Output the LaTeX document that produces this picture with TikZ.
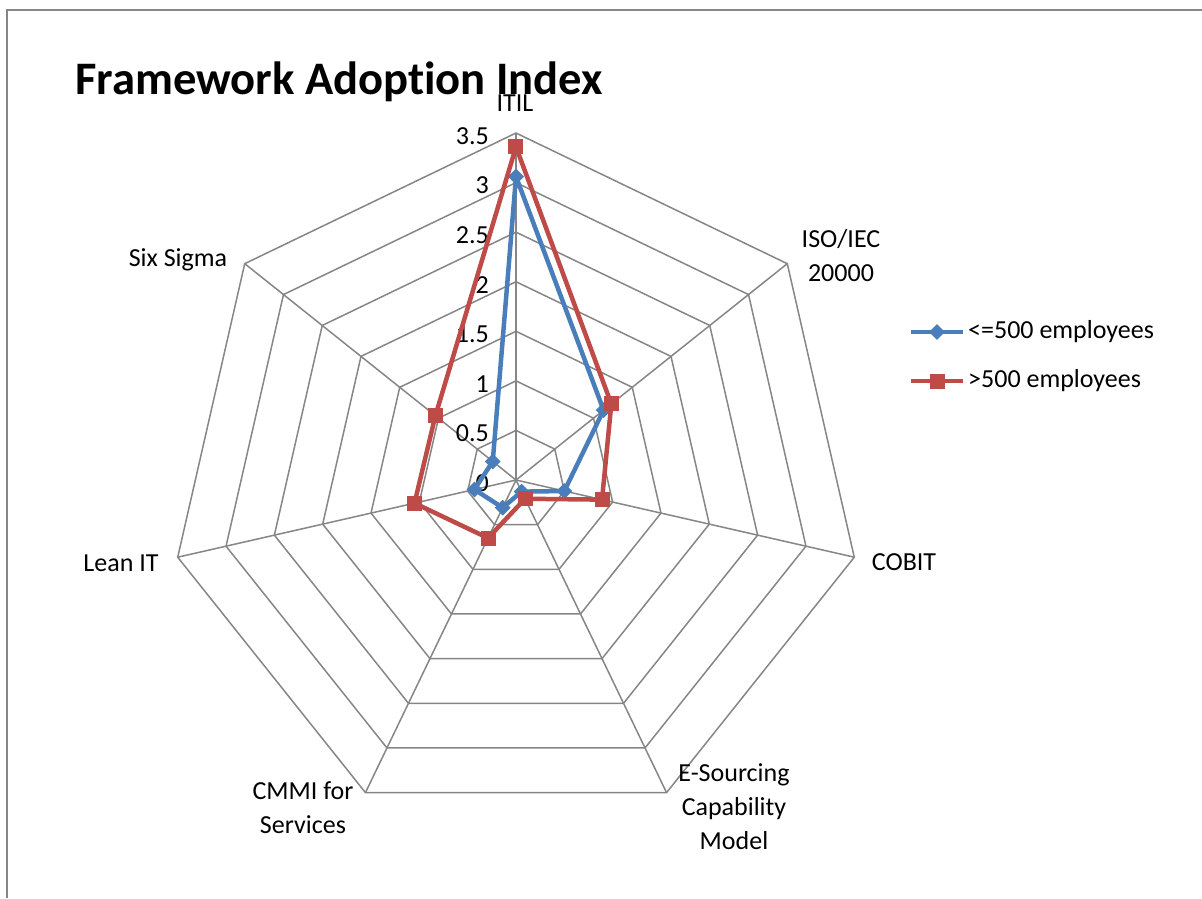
\documentclass[tikz,border=0pt]{standalone}
\usepackage{fontspec}
\setmainfont{Carlito}[Ligatures=NoCommon]
\usetikzlibrary{shapes.geometric,positioning}

\definecolor{gridgray}{HTML}{868686}
\definecolor{smallblue}{HTML}{4A7EBB}
\definecolor{largered}{HTML}{BE4B48}

\tikzset{
  gridline/.style={gridgray, line width=1.5pt},
  axislabel/.style={font=\fontsize{26}{34}\selectfont, align=center, inner sep=0pt},
  ticklabel/.style={font=\fontsize{26}{34}\selectfont, anchor=east, inner sep=0pt},
  smallco/.style={smallblue, line width=4.5pt, line join=round},
  largeco/.style={largered, line width=4.5pt, line join=round},
  diamondmark/.style={diamond, fill=smallblue, inner sep=0pt, minimum size=16pt},
  squaremark/.style={rectangle, fill=largered, inner sep=0pt, minimum size=15pt},
}

\begin{document}
\begin{tikzpicture}[x=1pt,y=1pt]
\useasboundingbox (-516,-418) rectangle (686,480);
\draw[gridgray, line width=2pt] (-509,-418) -- (-509,470) -- (686,470);

\node[font=\fontsize{46.6}{56}\selectfont\bfseries, anchor=base west, inner sep=0pt] (title) at (-441,386) {Framework Adoption Index};

% rings and spokes
\coordinate (O) at (0,0);
\foreach \k in {1,...,7}{
  \pgfmathsetmacro\rr{\k*49.57}
  \draw[gridline] (90:\rr) \foreach \i in {1,...,6}{ -- (90-\i*360/7:\rr)} -- cycle;
}
\foreach \i in {0,...,6}{
  \coordinate (ax\i) at (90-\i*360/7:347);
  \draw[gridline] (O) -- (ax\i);
}

\foreach \t [count=\k from 0] in {0,0.5,1,1.5,2,2.5,3,3.5}
  \node[ticklabel] (tick\k) at (-27,\k*49.57-3) {\t};

% axis labels
\node[axislabel] (itil) at (-1,377) {ITIL};
\node[axislabel] (iso) at (325,224) {ISO/IEC\\20000};
\node[axislabel] (cobit) at (388,-82) {COBIT};
\node[axislabel] (esource) at (218,-327) {E-Sourcing\\Capability\\Model};
\node[axislabel] (cmmi) at (-213,-328) {CMMI for\\Services};
\node[axislabel] (lean) at (-395,-83) {Lean IT};
\node[axislabel] (sixsigma) at (-338,220) {Six Sigma};

% series
\foreach \v [count=\i from 0] in {3.06,1.13,0.50,0.13,0.31,0.43,0.30}
  \coordinate (s\i) at (90-\i*360/7:\v*99.14);
\foreach \v [count=\i from 0] in {3.36,1.23,0.89,0.21,0.65,1.05,1.04}
  \coordinate (l\i) at (90-\i*360/7:\v*99.14);

\draw[smallco] (s0) -- (s1) -- (s2) -- (s3) -- (s4) -- (s5) -- (s6) -- cycle;
\foreach \i in {0,...,6}
  \node[diamondmark] (sm\i) at (s\i) {};
\draw[largeco] (l0) -- (l1) -- (l2) -- (l3) -- (l4) -- (l5) -- (l6) -- cycle;
\foreach \i in {0,...,6}
  \node[squaremark] (lm\i) at (l\i) {};

% legend
\draw[smallco] (395,148) coordinate (k1a) -- (447,148) coordinate (k1b);
\node[diamondmark] (key1) at (421,148) {};
\node[ticklabel, anchor=west] (txt1) at (452,148) {<=500 employees};
\draw[largeco] (395,99) coordinate (k2a) -- (447,99) coordinate (k2b);
\node[squaremark] (key2) at (421,99) {};
\node[ticklabel, anchor=west] (txt2) at (452,99) {>500 employees};
\end{tikzpicture}
\end{document}
